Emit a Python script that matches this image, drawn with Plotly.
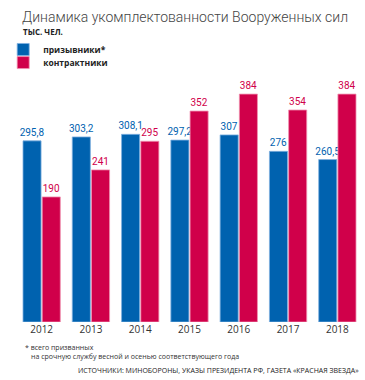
import plotly.graph_objects as go

years = ["2012", "2013", "2014", "2015", "2016", "2017", "2018"]
conscripts = [295.8, 303.2, 308.1, 297.2, 307, 276, 260.5]
contractors = [190, 241, 295, 352, 384, 354, 384]
series_names = ["призывники*", "контрактники"]
title_text = "Динамика укомплектованности Вооруженных сил"
unit_text = "ТЫС. ЧЕЛ."
footnote_lines = ["* всего призванных", "на срочную службу весной и осенью соответствующего года"]
source_text = "ИСТОЧНИКИ: МИНОБОРОНЫ, УКАЗЫ ПРЕЗИДЕНТА РФ, ГАЗЕТА «КРАСНАЯ ЗВЕЗДА»"

BASE = -46  # visual baseline of the original (axis does not start at zero)
BLUE = "#0062AF"
RED = "#D0004A"

def fmt(v):
    return f"{v:g}".replace(".", ",")

label_font = "Liberation Sans Narrow, Roboto, sans-serif"

fig = go.Figure()
for name, vals, col, edge, lg in [
    (series_names[0], conscripts, BLUE, "#7fb0e0", "legend"),
    (series_names[1], contractors, RED, "#f090b0", "legend2"),
]:
    fig.add_trace(go.Bar(
        x=years,
        y=[v - BASE for v in vals],
        base=BASE,
        name=name,
        marker=dict(color=col, line=dict(color=edge, width=0.8)),
        text=[fmt(v) for v in vals],
        textposition="outside",
        constraintext="none",
        textfont=dict(color=col, size=10, family=label_font),
        cliponaxis=False,
        legend=lg,
        hoverinfo="skip",
    ))

leg_font = dict(size=8.5, color="#222", family="Open Sans", weight="bold")
fig.update_layout(
    width=365, height=380,
    margin=dict(l=8, r=3, t=70, b=58),
    paper_bgcolor="white", plot_bgcolor="white",
    barmode="group", bargap=0.22, bargroupgap=0.06,
    separators=", ",
    showlegend=True,
    legend=dict(x=-0.04, y=1.139, xanchor="left", yanchor="top", font=leg_font,
                itemwidth=30, bgcolor="rgba(0,0,0,0)", tracegroupgap=0),
    legend2=dict(x=-0.04, y=1.087, xanchor="left", yanchor="top", font=leg_font,
                 itemwidth=30, bgcolor="rgba(0,0,0,0)", tracegroupgap=0),
    xaxis=dict(showline=False, showgrid=False, ticks="",
               tickfont=dict(size=10, color="#333", family="Open Sans")),
    yaxis=dict(range=[BASE, 429.5], visible=False, showgrid=False, zeroline=False),
)

annotations = [
    dict(text=title_text, x=11, y=17, font=dict(size=14, color="#444", family="Roboto", weight=300)),
    dict(text=unit_text, x=12, y=31, font=dict(size=8, color="#222", family="Open Sans", weight="bold")),
    dict(text=footnote_lines[0], x=14, y=347, font=dict(size=7, color="#333", family="Open Sans")),
    dict(text=footnote_lines[1], x=20, y=356, font=dict(size=7, color="#333", family="Open Sans")),
]
for a in annotations:
    fig.add_annotation(text=a["text"], xref="paper", yref="paper",
                       x=(a["x"] - 8) / 354, y=(322 - a["y"]) / 252,
                       xanchor="left", yanchor="middle", showarrow=False, font=a["font"])
fig.add_annotation(text=source_text, xref="paper", yref="paper",
                   x=(361 - 8) / 354, y=(322 - 370) / 252, xanchor="right", yanchor="middle",
                   showarrow=False, font=dict(size=7, color="#222", family="Open Sans"))

fig.write_html("out.html", config={"displayModeBar": False},
               post_script="document.body.style.margin='0';document.body.style.overflow='hidden';")
